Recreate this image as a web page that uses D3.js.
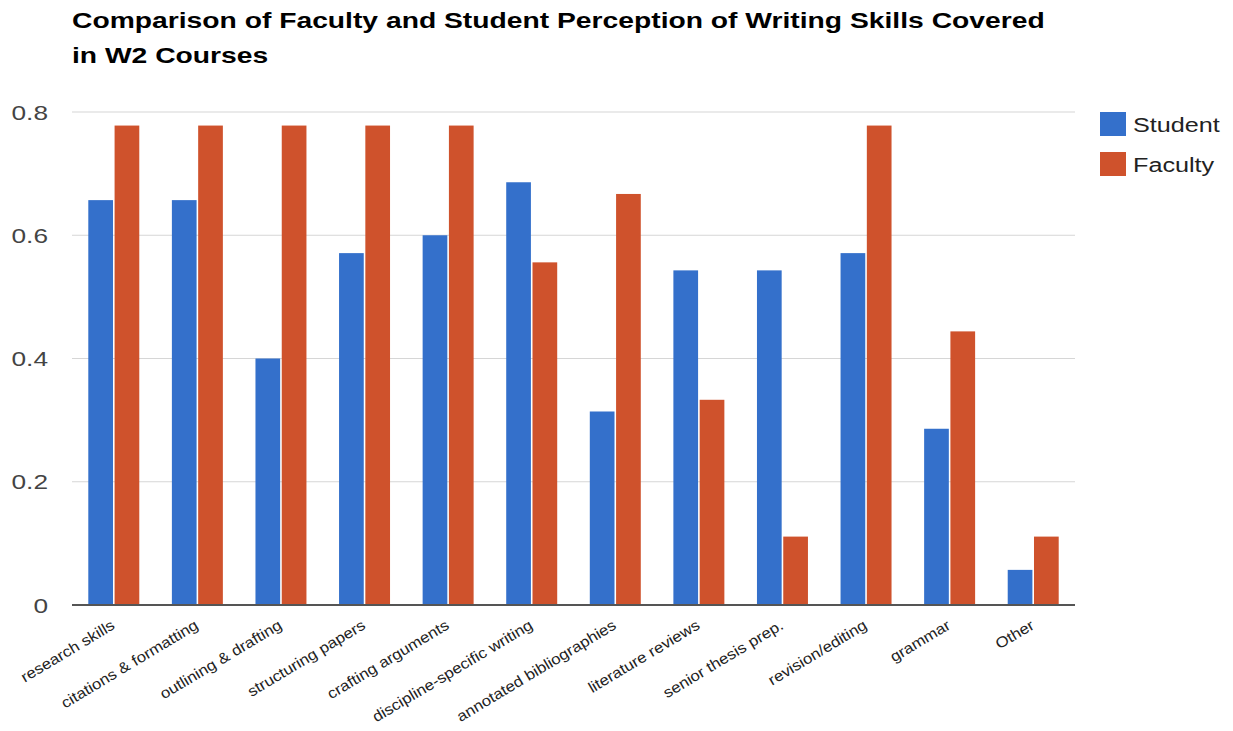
<!DOCTYPE html>
<html>
<head>
<meta charset="utf-8">
<script src="https://cdn.jsdelivr.net/npm/d3@7"></script>
<style>
  html, body { margin: 0; padding: 0; background: #fff; }
  svg { display: block; font-family: "Liberation Sans", Arial, sans-serif; }
</style>
</head>
<body>
<svg id="chart" width="1233" height="731"></svg>
<script>
// Skills asked about in the survey
const categories = [
  "research skills", "citations & formatting", "outlining & drafting",
  "structuring papers", "crafting arguments", "discipline-specific writing",
  "annotated bibliographies", "literature reviews", "senior thesis prep.",
  "revision/editing", "grammar", "Other"
];
const seriesNames = ["Student", "Faculty"];
// Share of respondents reporting each skill was covered
const studentValues = [0.657, 0.657, 0.400, 0.571, 0.600, 0.686, 0.314, 0.543, 0.543, 0.571, 0.286, 0.057];
const facultyValues = [0.778, 0.778, 0.778, 0.778, 0.778, 0.556, 0.667, 0.333, 0.111, 0.778, 0.444, 0.111];
const yTicks = [0, 0.2, 0.4, 0.6, 0.8];
const titleLines = [
  "Comparison of Faculty and Student Perception of Writing Skills Covered",
  "in W2 Courses"
];
const colors = ["#3470cb", "#cf522c"];

const rows = categories.map((c, i) => ({ category: c, values: [studentValues[i], facultyValues[i]] }));

const svg = d3.select("#chart");
const plot = { left: 72, right: 1075, top: 112, bottom: 605 };

const y = d3.scaleLinear().domain([0, 0.8]).range([plot.bottom, plot.top]);
const x0 = d3.scaleBand().domain(categories).range([plot.left, plot.right]).padding(0);
const bw = x0.bandwidth();
const x1 = d3.scaleBand().domain(seriesNames).range([bw * 0.195, bw * 0.805]).paddingInner(0.06);

// Wide text: glyphs are stretched horizontally
const stretch = 1.285;

// Title
const title = svg.append("g");
titleLines.forEach((t, i) => {
  title.append("text")
    .attr("transform", `translate(72,${28 + i * 35}) scale(${stretch},1)`)
    .attr("font-size", 22).attr("font-weight", "bold").attr("fill", "#000")
    .text(t);
});

// Gridlines and y tick labels
const yAxis = svg.append("g");
yAxis.selectAll("line.grid").data(yTicks.filter(d => d > 0)).join("line")
  .attr("class", "grid")
  .attr("x1", plot.left).attr("x2", plot.right)
  .attr("y1", d => y(d)).attr("y2", d => y(d))
  .attr("stroke", "#d6d6d6").attr("stroke-width", 1.2);
yAxis.selectAll("text").data(yTicks).join("text")
  .attr("transform", d => `translate(48,${y(d) + 7.5}) scale(1.25,1)`)
  .attr("text-anchor", "end").attr("font-size", 21).attr("fill", "#444")
  .text(d => d === 0 ? "0" : d3.format(".1f")(d));

// Bars
const groups = svg.append("g").selectAll("g").data(rows).join("g")
  .attr("transform", d => `translate(${x0(d.category)},0)`);
groups.selectAll("rect").data(d => d.values.map((v, i) => ({ key: seriesNames[i], value: v, i })))
  .join("rect")
  .attr("x", d => x1(d.key))
  .attr("width", x1.bandwidth())
  .attr("y", d => y(d.value))
  .attr("height", d => y(0) - y(d.value))
  .attr("fill", d => colors[d.i]);

// Baseline
svg.append("line")
  .attr("x1", plot.left).attr("x2", plot.right)
  .attr("y1", y(0)).attr("y2", y(0))
  .attr("stroke", "#555").attr("stroke-width", 2);

// Rotated category labels
svg.append("g").selectAll("text").data(categories).join("text")
  .attr("transform", d => `translate(${x0(d) + bw / 2 + 2},${plot.bottom + 23}) rotate(-31) scale(1.12,1)`)
  .attr("text-anchor", "end").attr("font-size", 15).attr("fill", "#222")
  .text(d => d);

// Legend
const legend = svg.append("g").selectAll("g").data(seriesNames).join("g")
  .attr("transform", (d, i) => `translate(1100,${112 + i * 40})`);
legend.append("rect").attr("width", 26).attr("height", 24).attr("fill", (d, i) => colors[i]);
legend.append("text").attr("transform", "translate(33,20) scale(1.2,1)")
  .attr("font-size", 21).attr("fill", "#222").text(d => d);
</script>
</body>
</html>
